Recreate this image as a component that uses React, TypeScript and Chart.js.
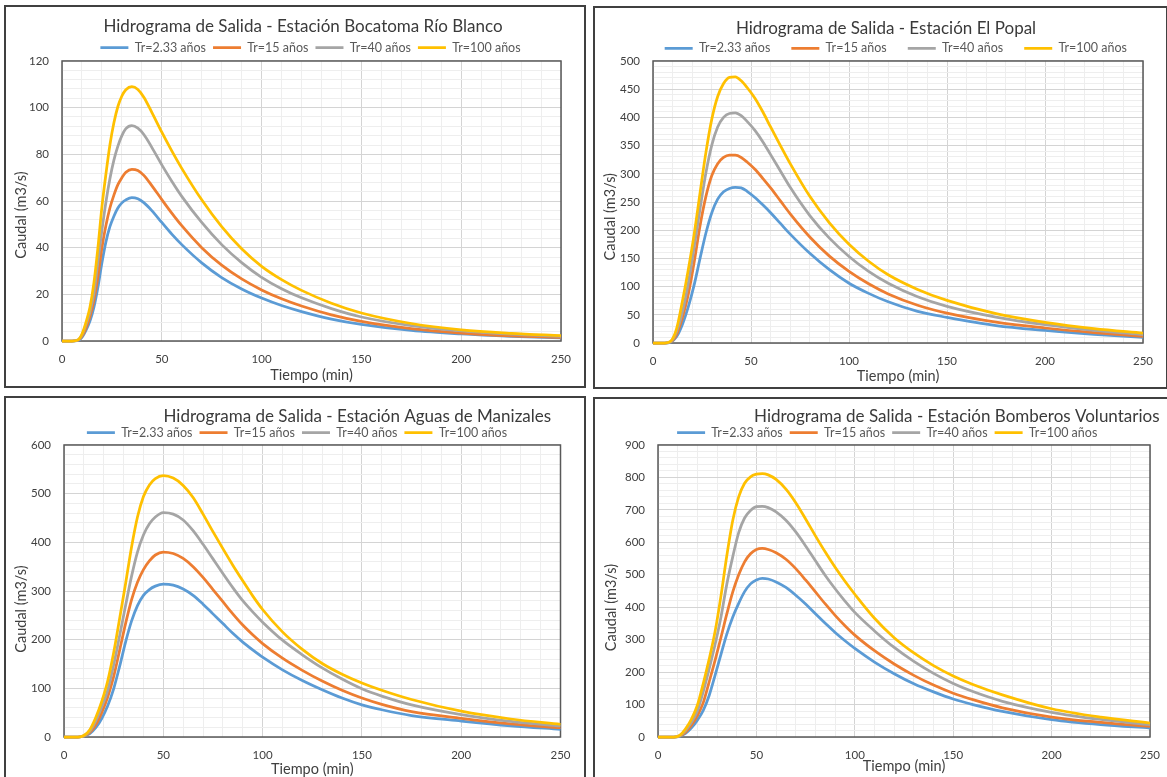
import React, { useEffect, useRef } from 'react';
import { Chart, registerables } from 'chart.js';

Chart.register(...registerables);

// ---------------- DATA ----------------
const SERIES_LABELS = ['Tr=2.33 años', 'Tr=15 años', 'Tr=40 años', 'Tr=100 años'];
const SERIES_COLORS = ['#5B9BD5', '#ED7D31', '#A5A5A5', '#FFC000'];
const X_AXIS_TITLE = 'Tiempo (min)';
const Y_AXIS_TITLE = 'Caudal (m3/s)';
const X_MAX = 250;
const X_MAJOR = 50;

// Estación Bocatoma Río Blanco
const TITLE_RIO_BLANCO = 'Hidrograma de Salida - Estación Bocatoma Río Blanco';
const T_RIO_BLANCO = [0, 5, 8, 10, 12, 14, 16, 18, 20, 22, 24, 26, 28, 30, 32, 35, 38, 41, 45, 50, 55, 60, 70, 80, 90, 100, 110, 120, 135, 150, 175, 200, 225, 250];
const Q_RIO_BLANCO_TR2 = [0, 0, 0.2, 1.5, 4.5, 8.5, 14.5, 23, 33.5, 42.5, 49, 53.5, 57, 59.2, 60.5, 61.5, 61, 59.3, 55.9, 50.8, 45.8, 41.3, 33.5, 27.2, 22.3, 18.4, 15.2, 12.6, 9.4, 7.1, 4.5, 3, 2, 1.3];
const Q_RIO_BLANCO_TR15 = [0, 0, 0.3, 2, 5.5, 10.5, 17.5, 27.5, 40, 49.5, 57, 62.5, 67, 70, 72.3, 73.6, 73.1, 71, 66.6, 60.6, 54.8, 49.4, 40, 32.5, 26.6, 21.9, 18.1, 15, 11.2, 8.4, 5.3, 3.4, 2.2, 1.5];
const Q_RIO_BLANCO_TR40 = [0, 0, 0.4, 2.5, 7, 12.5, 20.5, 34, 47.5, 59.5, 69.5, 77.5, 83.5, 88, 91, 92.3, 91.2, 88.5, 83, 75.5, 68.5, 62, 50.8, 41.3, 33.6, 27.3, 22.4, 18.5, 13.9, 10.3, 6.6, 4.3, 2.9, 2.0];
const Q_RIO_BLANCO_TR100 = [0, 0, 0.5, 3, 8, 14.5, 25, 40, 57.5, 71.5, 84, 93.5, 100.5, 105, 107.7, 109, 107.8, 104.5, 98, 89.5, 81.5, 74, 60.5, 49, 39.5, 32, 26.3, 21.7, 16.2, 12, 7.5, 4.8, 3.3, 2.3];
const Y_MAX_RIO_BLANCO = 120;
const Y_MAJOR_RIO_BLANCO = 20;

// Estación El Popal
const TITLE_EL_POPAL = 'Hidrograma de Salida - Estación El Popal';
const T_EL_POPAL = [0, 6, 9, 12, 15, 18, 21, 24, 27, 30, 33, 36, 39, 42, 45, 48, 52, 56, 60, 65, 70, 80, 90, 100, 110, 120, 135, 150, 175, 200, 225, 250];
const Q_EL_POPAL_TR2 = [0, 0, 1.5, 11, 33, 64, 103, 150, 195, 231, 255, 268, 274, 276, 275, 269, 258, 245, 231, 212, 193, 159, 130, 106, 88, 73, 56, 45.5, 31, 22.4, 15.5, 10];
const Q_EL_POPAL_TR15 = [0, 0, 2, 15, 45, 86, 143, 208, 260, 297, 318, 329, 333, 333, 329, 321, 308, 292, 275, 252, 229, 188, 154, 127, 105, 87, 67, 53, 37, 26.6, 18.5, 11.8];
const Q_EL_POPAL_TR40 = [0, 0, 2.5, 20, 55, 106, 170, 238, 302, 351, 383, 400, 407, 408, 403, 393, 377, 357, 334, 305, 276, 226, 186, 153.5, 127, 106, 82, 65, 46, 32.5, 22.5, 14.8];
const Q_EL_POPAL_TR100 = [0, 0, 3, 25, 74, 130, 193, 266, 338, 397, 437, 460, 471, 472, 465, 453, 434, 410, 383, 350, 318, 260, 213, 175, 145, 121, 95, 75.5, 52, 36.6, 25.5, 17.7];
const Y_MAX_EL_POPAL = 500;
const Y_MAJOR_EL_POPAL = 50;

// Estación Aguas de Manizales
const TITLE_AGUAS = 'Hidrograma de Salida - Estación Aguas de Manizales';
const T_AGUAS = [0, 7, 10, 13, 16, 19, 22, 25, 28, 31, 34, 37, 40, 43, 46, 50, 55, 60, 65, 70, 75, 80, 85, 90, 95, 100, 110, 120, 130, 140, 150, 160, 175, 200, 225, 250];
const Q_AGUAS_TR2 = [0, 0, 1.5, 7, 19, 38, 64, 99, 145, 195, 238, 270, 291, 303, 310, 314, 312, 304, 291, 273, 253, 233, 213, 195, 179, 164, 138, 116, 97, 80, 66, 56, 44, 32.8, 23, 15.7];
const Q_AGUAS_TR15 = [0, 0, 2, 9, 25, 50, 82, 124, 178, 233, 282, 318, 344, 362, 374, 380, 377, 367, 350, 328, 303, 278, 253, 230, 210, 192, 162, 137, 115, 96, 80, 67, 52, 38.3, 27, 19];
const Q_AGUAS_TR40 = [0, 0, 2.5, 12, 33, 62, 96, 148, 208, 270, 330, 380, 415, 438, 452, 461, 458, 446, 424, 396, 366, 336, 307, 280, 257, 236, 199, 169, 142, 119, 99, 84, 66, 46, 32, 22.6];
const Q_AGUAS_TR100 = [0, 0, 3, 15, 40, 73, 115, 173, 243, 315, 390, 452, 494, 518, 531, 537, 532, 517, 492, 458, 422, 387, 353, 321, 290, 262, 216, 180, 151, 129, 111, 96, 77, 53, 37, 26];
const Y_MAX_AGUAS = 600;
const Y_MAJOR_AGUAS = 100;

// Estación Bomberos Voluntarios
const TITLE_BOMBEROS = 'Hidrograma de Salida - Estación Bomberos Voluntarios';
const T_BOMBEROS = [0, 8, 11, 14, 17, 20, 23, 26, 29, 32, 35, 38, 41, 44, 47, 50, 53, 56, 60, 65, 70, 75, 80, 85, 90, 95, 100, 110, 120, 130, 140, 150, 160, 175, 200, 225, 250];
const Q_BOMBEROS_TR2 = [0, 0, 2, 11, 28, 52, 82, 128, 190, 255, 318, 370, 412, 448, 472, 484, 489, 487, 478, 461, 437, 410, 380, 350.5, 322, 296.5, 273, 231, 195, 164, 139, 117, 100, 79, 53.5, 38, 27.6];
const Q_BOMBEROS_TR15 = [0, 0, 3, 15, 36, 66, 106, 170, 236, 307, 380, 447, 500, 540, 565, 578, 581, 578, 568, 548, 519, 484, 447, 410, 375, 343, 314, 266, 225, 190, 160, 135, 115, 90, 61.5, 45, 32.8];
const Q_BOMBEROS_TR40 = [0, 0, 4, 20, 45, 80, 140, 210, 285, 370, 472, 556, 630, 675, 698, 710, 711, 707, 694, 668, 632, 589, 543, 498, 457, 419, 384, 327, 276, 233, 196, 165, 140, 110, 76, 54, 38];
const Q_BOMBEROS_TR100 = [0, 0, 5, 25, 55, 98, 165, 240, 325, 435, 560, 668, 740, 782, 802, 810, 812, 808, 794, 764, 722, 672, 620, 570, 523, 480, 440, 366, 306, 259, 220, 188, 162, 130, 87, 61, 43];
const Y_MAX_BOMBEROS = 900;
const Y_MAJOR_BOMBEROS = 100;

// ---------------- LAYOUT (canvas coordinates) ----------------
const PANELS = [
  {
    key: 'rb', title: TITLE_RIO_BLANCO, time: T_RIO_BLANCO,
    series: [Q_RIO_BLANCO_TR2, Q_RIO_BLANCO_TR15, Q_RIO_BLANCO_TR40, Q_RIO_BLANCO_TR100],
    yMax: Y_MAX_RIO_BLANCO, yMajor: Y_MAJOR_RIO_BLANCO,
    box: { left: 4, top: 5, width: 582, height: 383 },
    area: { l: 56, t: 54, r: 555, b: 334 },
    titleAt: { x: 297, y: 20 }, legendAt: { x: 304.5, y: 40.6, gap: 7 },
    yTitleAt: { x: 15.7, y: 208 }, xTitleY: 368,
  },
  {
    key: 'ep', title: TITLE_EL_POPAL, time: T_EL_POPAL,
    series: [Q_EL_POPAL_TR2, Q_EL_POPAL_TR15, Q_EL_POPAL_TR40, Q_EL_POPAL_TR100],
    yMax: Y_MAX_EL_POPAL, yMajor: Y_MAJOR_EL_POPAL,
    box: { left: 593, top: 6, width: 575, height: 383 },
    area: { l: 58, t: 53, r: 548, b: 335 },
    titleAt: { x: 291, y: 20.5 }, legendAt: { x: 300.8, y: 40.3, gap: 21 },
    yTitleAt: { x: 15.8, y: 208.7 }, xTitleY: 368,
  },
  {
    key: 'am', title: TITLE_AGUAS, time: T_AGUAS,
    series: [Q_AGUAS_TR2, Q_AGUAS_TR15, Q_AGUAS_TR40, Q_AGUAS_TR100],
    yMax: Y_MAX_AGUAS, yMajor: Y_MAJOR_AGUAS,
    box: { left: 4, top: 396, width: 582, height: 400 },
    area: { l: 58, t: 47, r: 554.5, b: 339 },
    titleAt: { x: 351.3, y: 19 }, legendAt: { x: 291, y: 34.7, gap: 7 },
    yTitleAt: { x: 15.6, y: 211 }, xTitleY: 371.7,
  },
  {
    key: 'bv', title: TITLE_BOMBEROS, time: T_BOMBEROS,
    series: [Q_BOMBEROS_TR2, Q_BOMBEROS_TR15, Q_BOMBEROS_TR40, Q_BOMBEROS_TR100],
    yMax: Y_MAX_BOMBEROS, yMajor: Y_MAJOR_BOMBEROS,
    box: { left: 593, top: 397, width: 590, height: 400 },
    area: { l: 63, t: 46, r: 555, b: 338 },
    titleAt: { x: 361.8, y: 18 }, legendAt: { x: 292.2, y: 33.7, gap: 7 },
    yTitleAt: { x: 16, y: 208.5 }, xTitleY: 367,
  },
];

const FONT = 'Lato, "Open Sans", sans-serif';
const TICK_SIZE = 11.5;
const AXIS_TITLE_SIZE = 14.5;
const TITLE_SIZE = 17;
const LEGEND_SIZE = 12.5;
const BORDER = 2;

function Panel({ spec }: { spec: any }) {
  const ref = useRef<HTMLCanvasElement>(null);
  const cw = spec.box.width - BORDER * 2;
  const ch = spec.box.height - BORDER * 2;

  useEffect(() => {
    const canvas = ref.current;
    if (!canvas) return;
    const area = spec.area;
    const axisTitleLH = AXIS_TITLE_SIZE * 1.2;
    const yW = area.l - (spec.yTitleAt.x - axisTitleLH / 2);
    const xH = spec.xTitleY - area.b + axisTitleLH / 2;
    const isMult = (v: number, m: number) => Math.abs(v / m - Math.round(v / m)) < 1e-6;

    const placer = {
      id: 'placer',
      afterLayout(chart: any) {
        const tb = chart.titleBlock;
        if (tb) {
          const h = tb.height;
          tb.left = spec.titleAt.x - 400;
          tb.right = spec.titleAt.x + 400;
          tb.width = 800;
          tb.top = spec.titleAt.y - h / 2;
          tb.bottom = tb.top + h;
        }
        const lg = chart.legend;
        if (lg) {
          const h = lg.height;
          lg.left = spec.legendAt.x - 400;
          lg.right = spec.legendAt.x + 400;
          lg.width = 800;
          lg.top = spec.legendAt.y - spec.legendAt.gap - LEGEND_SIZE / 2;
          lg.bottom = lg.top + h;
        }
        const ys = chart.scales.y;
        if (ys) {
          const dy = spec.yTitleAt.y - (ys.top + ys.bottom) / 2;
          ys.top += dy;
          ys.bottom += dy;
        }
      },
      beforeDatasetsDraw(chart: any) {
        const { ctx, chartArea: a } = chart;
        ctx.save();
        ctx.strokeStyle = '#595959';
        ctx.lineWidth = 1.5;
        ctx.strokeRect(a.left, a.top, a.right - a.left, a.bottom - a.top);
        ctx.restore();
      },
    };

    const padding = { left: area.l - yW, right: cw - area.r, top: 50, bottom: ch - area.b - xH };

    const chart = new Chart(canvas, {
      type: 'line',
      data: {
        datasets: spec.series.map((s: number[], i: number) => ({
          label: SERIES_LABELS[i],
          data: spec.time.map((t: number, k: number) => ({ x: t, y: s[k] })),
          borderColor: SERIES_COLORS[i],
          backgroundColor: SERIES_COLORS[i],
          borderWidth: 2.75,
          pointRadius: 0,
          pointHoverRadius: 0,
          cubicInterpolationMode: 'monotone',
          fill: false,
          clip: false,
          order: 4 - i,
        })),
      },
      options: {
        responsive: false,
        maintainAspectRatio: false,
        animation: false,
        events: [],
        layout: { padding },
        scales: {
          x: {
            type: 'linear',
            min: 0,
            max: X_MAX,
            afterFit: (s: any) => { s.height = xH; },
            border: { display: false },
            grid: {
              drawTicks: false,
              lineWidth: 1,
              color: (c: any) => (c.tick && isMult(c.tick.value, X_MAJOR) ? '#d4d4d4' : '#eeeeee'),
            },
            ticks: {
              stepSize: X_MAJOR / 5,
              autoSkip: false,
              maxRotation: 0,
              padding: 11.4,
              color: '#404040',
              font: { family: FONT, size: TICK_SIZE },
              callback: (v: any) => (isMult(Number(v), X_MAJOR) ? String(v) : ''),
            },
            title: {
              display: true,
              text: X_AXIS_TITLE,
              color: '#404040',
              padding: 0,
              font: { family: FONT, size: AXIS_TITLE_SIZE },
            },
          },
          y: {
            type: 'linear',
            min: 0,
            max: spec.yMax,
            afterFit: (s: any) => { s.width = yW; },
            border: { display: false },
            grid: {
              drawTicks: false,
              lineWidth: 1,
              color: (c: any) => (c.tick && isMult(c.tick.value, spec.yMajor) ? '#d4d4d4' : '#eeeeee'),
            },
            ticks: {
              stepSize: spec.yMajor / 5,
              autoSkip: false,
              padding: 13,
              color: '#404040',
              font: { family: FONT, size: TICK_SIZE },
              callback: (v: any) => (isMult(Number(v), spec.yMajor) ? String(v) : ''),
            },
            title: {
              display: true,
              text: Y_AXIS_TITLE,
              color: '#404040',
              padding: 0,
              font: { family: FONT, size: AXIS_TITLE_SIZE },
            },
          },
        },
        plugins: {
          title: {
            display: true,
            text: spec.title,
            color: '#3a3a3a',
            padding: 0,
            font: { family: FONT, size: TITLE_SIZE, weight: 'normal' },
          },
          legend: {
            display: true,
            position: 'top',
            labels: {
              usePointStyle: true,
              pointStyle: 'line',
              pointStyleWidth: 28,
              padding: spec.legendAt.gap,
              color: '#595959',
              font: { family: FONT, size: LEGEND_SIZE },
              sort: (a: any, b: any) => a.datasetIndex - b.datasetIndex,
            },
          },
          tooltip: { enabled: false },
        },
      } as any,
      plugins: [placer as any],
    });

    // second pass: pin the plot area exactly
    const ca = chart.chartArea;
    const newPad = {
      left: padding.left + (area.l - ca.left),
      top: padding.top + (area.t - ca.top),
      right: padding.right + (ca.right - area.r),
      bottom: padding.bottom + (ca.bottom - area.b),
    };
    (chart.config.options as any).layout = { padding: newPad };
    chart.update();

    return () => chart.destroy();
  }, []);

  return (
    <div
      style={{
        position: 'absolute',
        left: spec.box.left,
        top: spec.box.top,
        width: spec.box.width,
        height: spec.box.height,
        boxSizing: 'border-box',
        border: `${BORDER}px solid #404040`,
        background: '#ffffff',
      }}
    >
      <canvas
        ref={ref}
        width={cw}
        height={ch}
        style={{ position: 'absolute', left: 0, top: 0, width: cw, height: ch }}
      />
    </div>
  );
}

export default function App() {
  return (
    <div
      style={{
        position: 'absolute',
        left: 0,
        top: 0,
        width: 1167,
        height: 777,
        overflow: 'hidden',
        background: '#ffffff',
      }}
    >
      {PANELS.map((p) => (
        <Panel key={p.key} spec={p} />
      ))}
    </div>
  );
}
